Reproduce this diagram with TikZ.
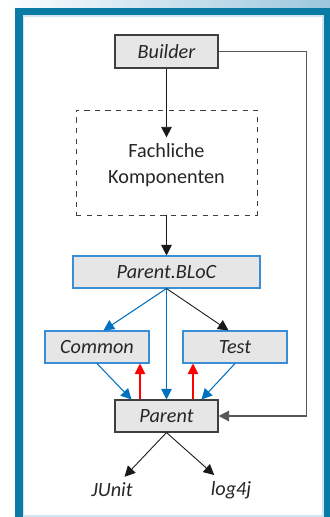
\documentclass[tikz,border=0pt]{standalone}
\usepackage{fontspec}
\setmainfont{Carlito}
\usetikzlibrary{arrows.meta}

\definecolor{framecol}{HTML}{0A7BA5}
\definecolor{bandcol}{HTML}{9CC7DD}
\definecolor{boxgray}{HTML}{E6E6E6}
\definecolor{boxline}{HTML}{3F3F3F}
\definecolor{bluelinkcol}{HTML}{0070C0}
\definecolor{blueedge}{HTML}{3A8DD6}
\definecolor{redlinkcol}{HTML}{FF0000}
\definecolor{grayline}{HTML}{595959}
\definecolor{lightedge}{HTML}{CFE6F1}

\newcommand{\diagfont}{\fontsize{11.5}{14.5}\selectfont}

\tikzset{
    box/.style={draw=boxline, fill=boxgray, line width=0.6pt, font=\diagfont\itshape,
        minimum height=6.4mm, inner sep=0pt},
    bluebox/.style={box, draw=blueedge},
    link/.style={-{Triangle[width=6pt,length=6pt]}, line width=0.5pt, draw=black!90},
    bluelink/.style={link, line width=0.6pt, draw=bluelinkcol},
    redlink/.style={link, line width=0.6pt, draw=redlinkcol}
}

\begin{document}
\begin{tikzpicture}[x=0.2mm, y=-0.2mm, font=\diagfont, text=black!85]
    % Frame
    \useasboundingbox (0,0) rectangle (330,517);
    \shade[left color=white, right color=bandcol] (0,0) rectangle (330,8);
    \fill[framecol] (15,8) rectangle (330,517);
    \filldraw[fill=white, draw=lightedge, line width=0.6pt] (23.5,16) rectangle (323,516);

    % Boxes
    \node[box, minimum width=20.6mm, minimum height=6.6mm] (builder) at (166.5,51.5) {Builder};
    \node[draw=boxline, dashed, line width=0.5pt, minimum width=36.2mm, minimum height=21mm] (fachbox) at (166.5,162.5) {};
    \node[align=center] (fach) at (166.5,165) {Fachliche\\Komponenten};
    \node[bluebox, minimum width=37.4mm] (bloc) at (166.5,272) {Parent.BLoC};
    \node[bluebox, minimum width=20.8mm] (common) at (97,347) {Common};
    \node[bluebox, minimum width=20.8mm] (test) at (235,347) {Test};
    \node[box, minimum width=20.6mm] (parent) at (166.5,416) {Parent};
    \node[font=\diagfont\itshape] (junit) at (112,490) {JUnit};
    \node[font=\diagfont\itshape] (log) at (231,490) {log4j};

    % Arrows
    \draw[link] (builder) -- (fach);
    \draw[link] (fachbox) -- (bloc);
    \draw[bluelink] (bloc.south) -- ([xshift=1.3mm]common.north);
    \draw[bluelink] (bloc.south) -- (parent.north);
    \draw[link] (bloc.south) -- ([xshift=-1.3mm]test.north);
    \draw[bluelink] (common.south) -- ([xshift=-7mm]parent.north);
    \draw[bluelink] (test.south) -- ([xshift=7mm]parent.north);
    \draw[redlink] ([xshift=-5.3mm]parent.north) -- ([xshift=-5.3mm]parent.north |- common.south);
    \draw[redlink] ([xshift=5.3mm]parent.north) -- ([xshift=5.3mm]parent.north |- test.south);
    \draw[link, line width=0.7pt, draw=grayline] (builder.east) -- ++(88,0) |- (parent.east);
    \draw[link] (parent.south) -- (junit);
    \draw[link] (parent.south) -- (log);
\end{tikzpicture}
\end{document}
